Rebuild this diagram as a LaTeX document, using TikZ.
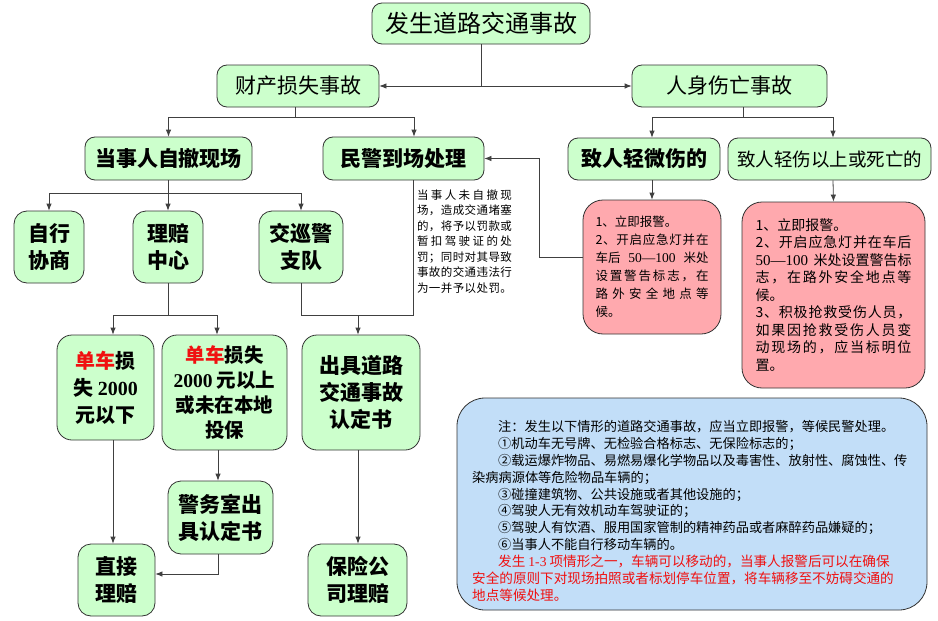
\documentclass[tikz,border=0pt]{standalone}
\usepackage{fontspec}
\setmainfont{Noto Sans CJK SC}
\newfontfamily\tms{Liberation Serif}
\usetikzlibrary{arrows.meta}
\definecolor{gfill}{HTML}{CCFFCC}
\definecolor{pfill}{HTML}{FFA9AE}
\definecolor{nfill}{HTML}{C2DEF8}
\definecolor{boxline}{HTML}{333333}
\definecolor{linec}{HTML}{404040}
\definecolor{redt}{HTML}{F01010}
\newcommand\jl[2]{\makebox[#1][s]{\jlloop#2\relax}}
\def\jlloop#1#2{#1\ifx\relax#2\else\hfil\expandafter\jlloop\expandafter#2\fi}
\newcommand\rd[1]{\textcolor{redt}{#1}}
\begin{document}
\begin{tikzpicture}[x=1pt,y=-1pt,
  gbox/.style={draw=boxline, fill=gfill, rounded corners=10pt, line width=0.8pt, align=center, inner sep=0pt, font=\bfseries\fontsize{21}{27}\selectfont},
  pbox/.style={draw=boxline, fill=pfill, rounded corners=20pt, line width=0.8pt, align=left, inner sep=0pt},
  conn/.style={draw=linec, line width=0.8pt},
  arr/.style={conn, -{Latex[length=7pt,width=5.5pt]}},
]
\useasboundingbox[fill=white] (0,0) rectangle (938,621);

% top levels
\node[gbox, font=\fontsize{24}{28}\selectfont, minimum width=218pt, minimum height=41pt] (top) at (481,23.5) {发生道路交通事故};
\node[gbox, font=\fontsize{21}{27}\selectfont, minimum width=162pt, minimum height=42pt] (cc) at (298,86) {财产损失事故};
\node[gbox, font=\fontsize{21}{27}\selectfont, minimum width=195pt, minimum height=42pt] (rs) at (729.5,86) {人身伤亡事故};

\node[gbox, minimum width=167pt, minimum height=43pt] (dsr) at (168.5,158.5) {当事人自撤现场};
\node[gbox, minimum width=161pt, minimum height=43pt] (mj) at (403.5,158.5) {民警到场处理};
\node[gbox, minimum width=152pt, minimum height=42pt] (qw) at (644,159) {致人轻微伤的};
\node[gbox, font=\fontsize{18.5}{22}\selectfont, minimum width=203pt, minimum height=42pt] (qs) at (829.5,159) {致人轻伤以上或死亡的};

\node[gbox, rounded corners=13pt, minimum width=70pt, minimum height=72pt] (zx) at (49,247) {自行\\协商};
\node[gbox, rounded corners=13pt, minimum width=70pt, minimum height=72pt] (lp) at (168,247) {理赔\\中心};
\node[gbox, rounded corners=13pt, minimum width=84pt, minimum height=72pt] (jx) at (301,247) {交巡警\\支队};

\node[gbox, rounded corners=15pt, font=\bfseries\fontsize{20}{27}\selectfont, minimum width=97pt, minimum height=105pt] (dc1) at (105.5,387.5) {\rd{单车}损\\失 {\tms 2000}\\元以下};
\node[gbox, rounded corners=15pt, font=\bfseries\fontsize{19.5}{25}\selectfont, minimum width=125pt, minimum height=115pt] (dc2) at (224.5,392.5) {\rd{单车}损失\\{\tms 2000} 元以上\\或未在本地\\投保};
\node[gbox, rounded corners=15pt, minimum width=118pt, minimum height=115pt] (cj) at (361,392.5) {出具道路\\交通事故\\认定书};
\node[gbox, rounded corners=13pt, minimum width=105pt, minimum height=73pt] (jw) at (220.5,517.5) {警务室出\\具认定书};
\node[gbox, rounded corners=13pt, minimum width=77pt, minimum height=72pt] (zj) at (116.5,580) {直接\\理赔};
\node[gbox, rounded corners=13pt, minimum width=99pt, minimum height=72pt] (bx) at (357.5,580) {保险公\\司理赔};

% small text block
\node[align=left, inner sep=0pt, font=\fontsize{11.5}{15.5}\selectfont] (fine) at (464.5,241.5) {%
\jl{95pt}{当事人未自撤现}\\
\jl{95pt}{场，造成交通堵塞}\\
\jl{95pt}{的，将予以罚款或}\\
\jl{95pt}{暂扣驾驶证的处}\\
\jl{95pt}{罚；同时对其导致}\\
\jl{95pt}{事故的交通违法行}\\
\jl{95pt}{为一并予以处罚。}};

% pink boxes
\node[pbox, minimum width=138pt, minimum height=134pt, font=\fontsize{12.5}{18}\selectfont] (pink1) at (652,267) {%
1、立即报警。\\
\jl{113pt}{2、开启应急灯并在}\\
\makebox[113pt][s]{车后\hfil{\tms\fontsize{13.5}{18}\selectfont 50—100}\hfil 米处}\\
\jl{113pt}{设置警告标志，在}\\
\jl{113pt}{路外安全地点等}\\
候。};
\node[pbox, minimum width=183pt, minimum height=186pt, font=\fontsize{14}{17.5}\selectfont] (pink2) at (833.5,295) {%
1、立即报警。\\
\jl{156pt}{2、开启应急灯并在车后}\\
\makebox[156pt][s]{{\tms\fontsize{15}{17.5}\selectfont 50—100} 米处设置警告标}\\
\jl{156pt}{志，在路外安全地点等}\\
候。\\
\jl{156pt}{3、积极抢救受伤人员，}\\
\jl{156pt}{如果因抢救受伤人员变}\\
\jl{156pt}{动现场的，应当标明位}\\
置。};

% note box
\node[draw=boxline, fill=nfill, line width=0.8pt, rounded corners=28pt, minimum width=470pt, minimum height=212pt, inner sep=0pt] (note) at (692,504) {};
\node[anchor=north west, align=left, inner sep=0pt, font=\fontsize{13.2}{16.9}\selectfont] (notetxt) at (472,420) {%
\hspace*{26pt}注：发生以下情形的道路交通事故，应当立即报警，等候民警处理。\\
\hspace*{26pt}①机动车无号牌、无检验合格标志、无保险标志的；\\
\hspace*{26pt}②载运爆炸物品、易燃易爆化学物品以及毒害性、放射性、腐蚀性、传\\
染病病源体等危险物品车辆的；\\
\hspace*{26pt}③碰撞建筑物、公共设施或者其他设施的；\\
\hspace*{26pt}④驾驶人无有效机动车驾驶证的；\\
\hspace*{26pt}⑤驾驶人有饮酒、服用国家管制的精神药品或者麻醉药品嫌疑的；\\
\hspace*{26pt}⑥当事人不能自行移动车辆的。\\
{\fontsize{13.6}{16.9}\selectfont\hspace*{26pt}\rd{发生 {\tms 1-3} 项情形之一，车辆可以移动的，当事人报警后可以在确保}}\\
{\fontsize{13.6}{16.9}\selectfont\rd{安全的原则下对现场拍照或者标划停车位置，将车辆移至不妨碍交通的}}\\
{\fontsize{13.6}{16.9}\selectfont\rd{地点等候处理。}}};

% connectors
\draw[conn] (top.south) -- (top.south |- cc.east) coordinate (b0);
\draw[arr] (b0) -- (cc.east);
\draw[arr] (b0) -- (rs.west);

\draw[conn] ([xshift=-3pt]cc.south) -- ++(0,10) coordinate (b1);
\draw[arr] (b1) -| (dsr.north);
\draw[arr] (b1) -| ([xshift=10.5pt]mj.north);

\draw[conn] ([xshift=13.5pt]rs.south) -- ++(0,10) coordinate (b2);
\draw[arr] (b2) -| ([xshift=8pt]qw.north);
\draw[arr] (b2) -| ([xshift=3.5pt]qs.north);

\draw[conn] (dsr.south) -- ++(0,13) coordinate (b3);
\draw[arr] (b3) -| (zx.north);
\draw[arr] (b3) -- (b3 -| lp.north) -- (lp.north);
\draw[arr] (b3) -| (jx.north);

\draw[conn] (lp.south) -- ++(0,32) coordinate (b4);
\draw[arr] (b4) -| ([xshift=7.5pt]dc1.north);
\draw[arr] (b4) -| ([xshift=-7.5pt]dc2.north);

\coordinate (b5) at ([xshift=9.5pt]mj.south |- b4);
\draw[conn] (jx.south) |- (b5) -- ([xshift=9.5pt]mj.south);
\draw[arr] ([xshift=-3pt]cj.north |- b5) -- ([xshift=-3pt]cj.north);

\draw[arr] ([xshift=8pt]qw.south) -- (pink1.north);
\draw[arr] ([xshift=3.5pt]qs.south) -- (pink2.north);
\draw[arr] ([yshift=10pt]pink1.west) -- ++(-43,0) |- (mj.east);

\draw[arr] ([xshift=7.5pt]dc1.south) -- ([xshift=7.5pt]dc1.south |- zj.north);
\draw[arr] ([xshift=-6.5pt]dc2.south) -- ([xshift=-6.5pt]dc2.south |- jw.north);
\draw[arr] ([xshift=-2.5pt]jw.south) |- ([yshift=6pt]zj.east);
\draw[arr] ([xshift=-3pt]cj.south) -- ([xshift=-3pt]cj.south |- bx.north);
\end{tikzpicture}
\end{document}
